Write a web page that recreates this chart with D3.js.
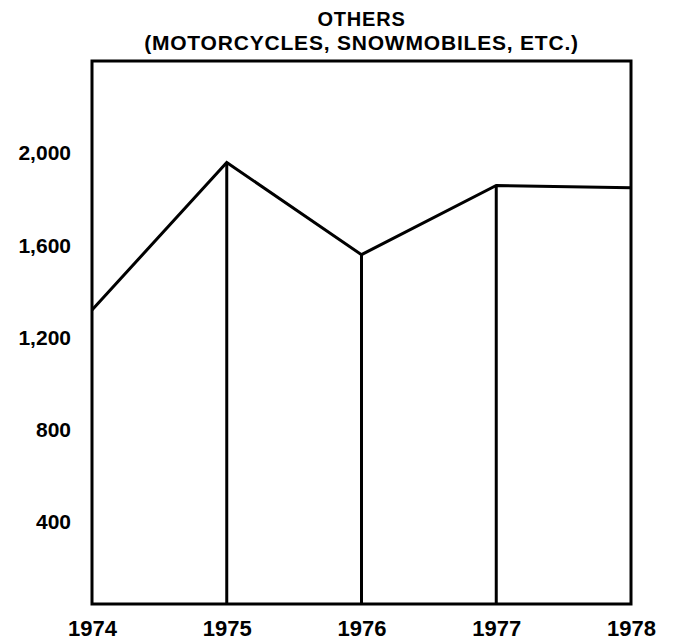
<!DOCTYPE html>
<html>
<head>
<meta charset="utf-8">
<script src="https://cdn.jsdelivr.net/npm/d3@7"></script>
<style>
  body { margin: 0; background: #fff; }
  text { font-family: "Liberation Sans", Arial, Helvetica, sans-serif; font-weight: bold; fill: #000; }
</style>
</head>
<body>
<div id="chart"></div>
<script>
// values
let years = [1974, 1975, 1976, 1977, 1978];
let others = [1320, 1960, 1560, 1860, 1850];
let yTicks = [400, 800, 1200, 1600, 2000];
let titleLines = ["OTHERS", "(MOTORCYCLES, SNOWMOBILES, ETC.)"];

let data = years.map((y, i) => ({ Year: y, Value: others[i] }));

let margin = { top: 61, right: 47, bottom: 38, left: 92 };
let width = 678 - margin.left - margin.right;
let height = 642 - margin.top - margin.bottom;

let svg = d3.select("#chart")
    .append("svg")
    .attr("width", width + margin.left + margin.right)
    .attr("height", height + margin.top + margin.bottom)
    .append("g")
    .attr("transform", "translate(" + margin.left + "," + margin.top + ")");

let x = d3.scaleLinear().domain([1974, 1978]).range([0, width]);
// the frame bottom sits a little above zero
let y = d3.scaleLinear().domain([45, 2400]).range([height, 0]);

// title
svg.append("g")
    .selectAll("text")
    .data(titleLines)
    .join("text")
    .attr("x", width / 2)
    .attr("y", (d, i) => -35 + i * 24)
    .attr("text-anchor", "middle")
    .style("font-size", (d, i) => i == 0 ? "20px" : "21px")
    .style("letter-spacing", "0.8px")
    .text(d => d);

// axes (labels only)
let yAxis = d3.axisLeft(y).tickValues(yTicks).tickSize(0).tickPadding(21)
    .tickFormat(d3.format(","));
svg.append("g")
    .attr("class", "myYaxis")
    .call(yAxis)
    .call(g => g.select(".domain").remove())
    .selectAll("text")
    .style("font-size", "21px")
    .attr("font-family", null);

let xAxis = d3.axisBottom(x).tickValues(years).tickSize(0).tickPadding(16)
    .tickFormat(d3.format("d"));
svg.append("g")
    .attr("class", "myXaxis")
    .attr("transform", "translate(0," + height + ")")
    .call(xAxis)
    .call(g => g.select(".domain").remove())
    .selectAll("text")
    .style("font-size", "22px")
    .attr("font-family", null);

// frame
svg.append("rect")
    .attr("x", x(1974))
    .attr("y", y(2400))
    .attr("width", x(1978) - x(1974))
    .attr("height", y(45) - y(2400))
    .attr("fill", "none")
    .attr("stroke", "black")
    .attr("stroke-width", 3);

// drop lines from each inner year
svg.selectAll(".drop")
    .data(data.slice(1, -1))
    .join("line")
    .attr("class", "drop")
    .attr("x1", d => x(d.Year))
    .attr("x2", d => x(d.Year))
    .attr("y1", d => y(d.Value))
    .attr("y2", y(45))
    .attr("stroke", "black")
    .attr("stroke-width", 3);

svg.append("path")
    .datum(data)
    .attr("d", d3.line()
        .x(d => x(d.Year))
        .y(d => y(d.Value)))
    .attr("fill", "none")
    .attr("stroke", "black")
    .attr("stroke-width", 3)
    .attr("stroke-linejoin", "miter");
</script>
</body>
</html>
